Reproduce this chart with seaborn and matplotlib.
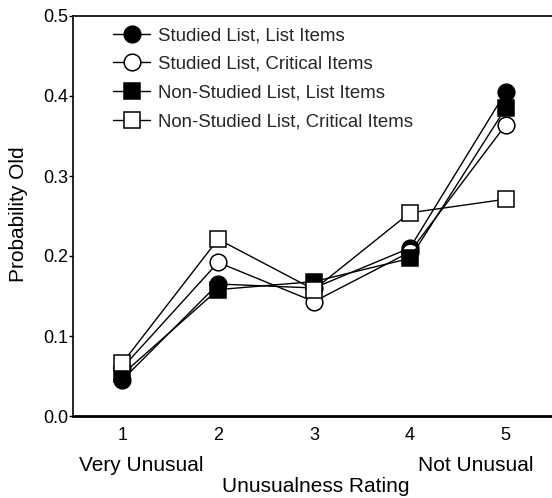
import matplotlib
matplotlib.use("Agg")
import matplotlib.pyplot as plt
import matplotlib.transforms as mtransforms
import seaborn as sns

# ---- data ----
ratings = [1, 2, 3, 4, 5]
x_tick_labels = ["1", "2", "3", "4", "5"]
y_ticks = [0.0, 0.1, 0.2, 0.3, 0.4, 0.5]
y_tick_labels = ["0.0", "0.1", "0.2", "0.3", "0.4", "0.5"]
series_names = [
    "Studied List, List Items",
    "Studied List, Critical Items",
    "Non-Studied List, List Items",
    "Non-Studied List, Critical Items",
]
studied_list_items = [0.045, 0.165, 0.160, 0.210, 0.405]
studied_critical_items = [0.060, 0.192, 0.143, 0.205, 0.364]
nonstudied_list_items = [0.052, 0.158, 0.168, 0.197, 0.385]
nonstudied_critical_items = [0.066, 0.221, 0.158, 0.254, 0.271]
x_label = "Unusualness Rating"
y_label = "Probability Old"
low_anchor = "Very Unusual"
high_anchor = "Not Unusual"

series_values = [studied_list_items, studied_critical_items,
                 nonstudied_list_items, nonstudied_critical_items]
markers = ["o", "o", "s", "s"]
facecolors = ["black", "white", "black", "white"]
msizes = [12, 12, 11.2, 11.2]

sns.set_style("ticks")
plt.rcParams["font.family"] = ["Liberation Sans", "DejaVu Sans"]

W, H = 552, 498
fig = plt.figure(figsize=(W / 100, H / 100), dpi=100)
ax = fig.add_axes([73.3 / W, (H - 416) / H, 490 / W, 400 / H])

for name, vals, m, fc, ms in zip(series_names, series_values, markers, facecolors, msizes):
    sns.lineplot(x=ratings, y=vals, ax=ax, color="black", linewidth=1.0,
                 marker=m, markersize=ms, markerfacecolor=fc,
                 markeredgecolor="black", markeredgewidth=1.1, label=name)

ax.set_xlim(0.49, 5.6)
ax.set_ylim(0, 0.5)
ax.set_xticks(ratings, x_tick_labels)
ax.set_yticks(y_ticks, y_tick_labels)
ax.tick_params(axis="x", length=0, pad=8.0, labelsize=13, labelcolor="black")
ax.tick_params(axis="y", length=3.2, width=1.0, pad=0.6, labelsize=13,
               labelcolor="black", color="black", direction="out")

for s in ["left", "top", "bottom"]:
    ax.spines[s].set_color("black")
ax.spines["left"].set_linewidth(1.2)
ax.spines["top"].set_linewidth(1.2)
ax.spines["bottom"].set_linewidth(2.0)
ax.spines["right"].set_visible(False)

ax.set_xlabel(x_label, fontsize=15, color="black")
ax.xaxis.set_label_coords(0.495, -0.189)
ax.xaxis.label.set_va("baseline")
ax.set_ylabel(y_label, fontsize=15, color="black")
ax.yaxis.set_label_coords(-0.111, 0.505)
ax.yaxis.label.set_va("center")

trans = mtransforms.blended_transform_factory(ax.transData, fig.transFigure)
ax.text(0.545, 1 - 471 / H, low_anchor, transform=trans, ha="left", va="baseline",
        fontsize=15, color="black")
ax.text(5.29, 1 - 471 / H, high_anchor, transform=trans, ha="right", va="baseline",
        fontsize=15, color="black")

ax.legend(loc="upper left", bbox_to_anchor=(0.081, 0.972), frameon=False,
          borderpad=0, borderaxespad=0, handlelength=1.99, handletextpad=0.41,
          labelspacing=0.63, fontsize=13.4)

fig.savefig("out.png", dpi=100)
